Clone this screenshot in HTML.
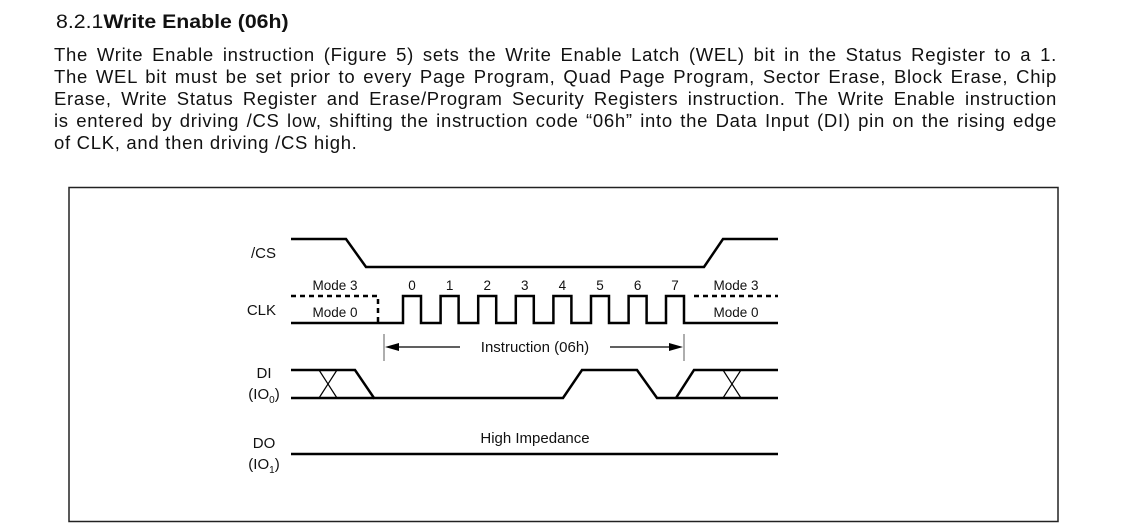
<!DOCTYPE html>
<html><head><meta charset="utf-8"><style>
html,body{margin:0;padding:0;background:#fff;width:1122px;height:524px;overflow:hidden;font-family:"Liberation Sans",Arial,sans-serif;color:#111}
.t{position:absolute;left:56px;top:12px;font-size:19px;white-space:nowrap;transform:scaleX(1.12);transform-origin:0 0}
.p{position:absolute;left:54px;width:1003px;font-size:18.5px;letter-spacing:0.7px;line-height:22px;top:44px}
.p div{text-align:justify;text-align-last:justify;height:22px;white-space:nowrap}
.p div.l{text-align-last:left}
</style></head><body>
<div class="t">8.2.1<b>Write Enable (06h)</b></div>
<div class="p">
<div>The Write Enable instruction (Figure 5) sets the Write Enable Latch (WEL) bit in the Status Register to a 1.</div>
<div>The WEL bit must be set prior to every Page Program, Quad Page Program, Sector Erase, Block Erase, Chip</div>
<div>Erase, Write Status Register and Erase/Program Security Registers instruction. The Write Enable instruction</div>
<div>is entered by driving /CS low, shifting the instruction code “06h” into the Data Input (DI) pin on the rising edge</div>
<div class="l">of CLK, and then driving /CS high.</div>
</div>
<svg width="1122" height="524" style="position:absolute;left:0;top:0" font-family="Liberation Sans, Arial, sans-serif">
<rect x="69" y="187.5" width="989" height="334" fill="none" stroke="#222" stroke-width="1.5"/>
<g fill="none" stroke="#000" stroke-width="2.5" stroke-linejoin="miter">
<polyline points="291,239 346,239 366,267 704,267 723,239 778,239"/>
<polyline points="291,323 403,323 403,296 421,296 421,323 440.6,323 440.6,296 458.6,296 458.6,323 478.2,323 478.2,296 496.2,296 496.2,323 515.8,323 515.8,296 533.8,296 533.8,323 553.4,323 553.4,296 571.4,296 571.4,323 591,323 591,296 609,296 609,323 628.6,323 628.6,296 646.6,296 646.6,323 666,323 666,296 684,296 684,323 778,323"/>
<polyline points="291,296 378,296 378,323" stroke-dasharray="5,4"/>
<polyline points="694,296 778,296" stroke-dasharray="5,4"/>
<polyline points="291,370 355,370 374,398 563,398 582,370 637,370 657,398 778,398"/>
<polyline points="291,398 374,398"/>
<polyline points="676,398 694,370 778,370"/>
<line x1="291" y1="454" x2="778" y2="454"/>
</g>
<g stroke="#000" stroke-width="1.2" fill="none">
<line x1="319" y1="370" x2="337" y2="398"/><line x1="337" y1="370" x2="319" y2="398"/>
<line x1="723" y1="370" x2="741" y2="398"/><line x1="741" y1="370" x2="723" y2="398"/>
<line x1="384" y1="334" x2="384" y2="361" stroke="#777"/>
<line x1="684" y1="334" x2="684" y2="361" stroke="#777"/>
<line x1="396" y1="347" x2="460" y2="347"/>
<line x1="610" y1="347" x2="672" y2="347"/>
</g>
<polygon points="385,347 399,343 399,351" fill="#000"/>
<polygon points="683,347 669,343 669,351" fill="#000"/>
<g font-size="15" fill="#111">
<text x="276" y="258" text-anchor="end">/CS</text>
<text x="276" y="315" text-anchor="end">CLK</text>
<text x="264" y="378" text-anchor="middle">DI</text>
<text x="264" y="399" text-anchor="middle">(IO<tspan font-size="10" dy="4">0</tspan><tspan dy="-4">)</tspan></text>
<text x="264" y="448" text-anchor="middle">DO</text>
<text x="264" y="469" text-anchor="middle">(IO<tspan font-size="10" dy="4">1</tspan><tspan dy="-4">)</tspan></text>
<text x="535" y="352" text-anchor="middle">Instruction (06h)</text>
<text x="535" y="443" text-anchor="middle">High Impedance</text>
</g>
<g font-size="13.5" fill="#111" text-anchor="middle">
<text x="335" y="290">Mode 3</text>
<text x="335" y="317">Mode 0</text>
<text x="736" y="290">Mode 3</text>
<text x="736" y="317">Mode 0</text>
<text x="412" y="290">0</text><text x="449.6" y="290">1</text><text x="487.2" y="290">2</text><text x="524.8" y="290">3</text>
<text x="562.4" y="290">4</text><text x="600" y="290">5</text><text x="637.6" y="290">6</text><text x="675" y="290">7</text>
</g>
</svg>
</body></html>
